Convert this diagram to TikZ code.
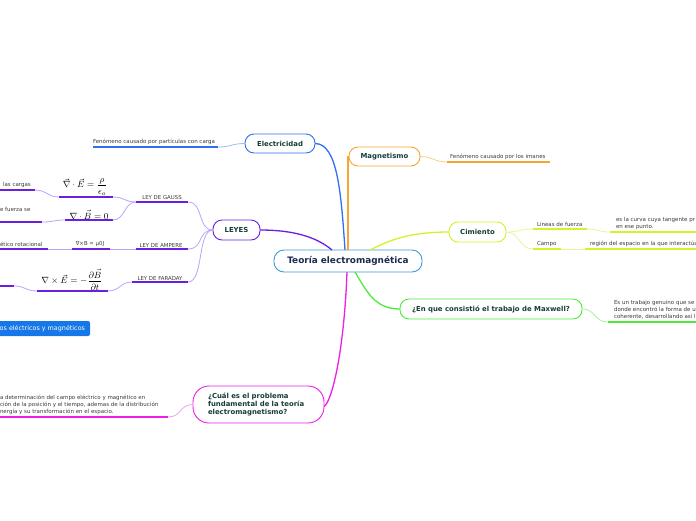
\documentclass[tikz,border=0pt]{standalone}
\usepackage{amsmath}
\usepackage{fontspec}
\setmainfont{DejaVu Sans}
\definecolor{txtgray}{HTML}{3A3A3A}
\definecolor{nodetext}{HTML}{163D35}
\definecolor{navy}{HTML}{1B2A4E}
\definecolor{centerC}{HTML}{3D9AD8}
\definecolor{blueC}{HTML}{2F6FF0}
\definecolor{blueL}{HTML}{9DBBF7}
\definecolor{orangeC}{HTML}{F7A531}
\definecolor{orangeL}{HTML}{F9CC8C}
\definecolor{purpleC}{HTML}{6B1FE0}
\definecolor{purpleL}{HTML}{B9A3F7}
\definecolor{yellowC}{HTML}{D4F22A}
\definecolor{yellowL}{HTML}{E6F59B}
\definecolor{greenC}{HTML}{4CEB3A}
\definecolor{greenL}{HTML}{A6F59C}
\definecolor{magC}{HTML}{EF1EE6}
\definecolor{magL}{HTML}{F59CF0}
\definecolor{boxblue}{HTML}{1677E8}
\begin{document}
\begin{tikzpicture}[x=1pt,y=-1pt,
  every node/.style={inner sep=0pt, outer sep=0pt},
  topic/.style={draw, rounded corners=9pt, fill=white, line width=0.9pt,
    font=\fontsize{6.9}{8.3}\selectfont\bfseries, text=nodetext, align=center},
  small/.style={font=\fontsize{5.5}{7}\selectfont, text=txtgray, anchor=south west, align=left},
  lawlbl/.style={font=\fontsize{5.4}{7}\selectfont, text=txtgray, anchor=south},
  formula/.style={font=\fontsize{9}{10}\selectfont, text=black, anchor=south},
  mainline/.style={line width=1.3pt},
  thinline/.style={line width=0.8pt},
  uline/.style={line width=1.6pt}
]
\useasboundingbox (0,0) rectangle (696,520);

% ---------- main topics ----------
\node[topic, draw=centerC, minimum width=148, minimum height=22, rounded corners=10pt,
      font=\fontsize{8.9}{10}\selectfont\bfseries, text=navy] (tc) at (348,261) {Teoría electromagnética};
\node[topic, draw=blueC, minimum width=70, minimum height=19] (elec) at (280,143.5) {Electricidad};
\node[topic, draw=orangeC, minimum width=71, minimum height=19] (mag) at (384.5,156.5) {Magnetismo};
\node[topic, draw=purpleC, minimum width=47, minimum height=20] (leyes) at (236.5,230) {LEYES};
\node[topic, draw=yellowC, minimum width=57, minimum height=20] (cim) at (477.5,232) {Cimiento};
\node[topic, draw=greenC, minimum width=182, minimum height=20] (maxw) at (491,309) {¿En que consistió el trabajo de Maxwell?};
\node[topic, draw=magC, minimum height=37, rounded corners=16pt, align=left,
      text width=101, inner xsep=15pt] (cual) at (258.5,404.5)
      {¿Cuál es el problema\\fundamental de la teoría\\electromagnetismo?};

% ---------- main connectors ----------
\draw[mainline, blueC] (elec.east) .. controls +(22,0) and +(-4,-60) .. ([xshift=-3pt]tc.north);
\draw[mainline, orangeC] (mag.west) -- ++(-1,0) -- ([xshift=0pt]tc.north);
\draw[mainline, purpleC] (leyes.east) .. controls +(40,0) and +(-12,-10) .. ([xshift=-16pt]tc.north);
\draw[mainline, yellowC] (cim.west) .. controls +(-40,0) and +(20,-10) .. ([xshift=22pt]tc.north);
\draw[mainline, greenC] ([xshift=7pt]tc.south) .. controls +(12,20) and +(-25,0) .. (maxw.west);
\draw[mainline, magC] ([xshift=-1pt]tc.south) .. controls +(-3,80) and +(8,-5) .. ([yshift=-2pt]cual.east);

% ---------- Electricidad ----------
\coordinate (e0) at (93,147);
\coordinate (e1) at (218,147);
\draw[uline, blueC] (e0) -- (e1);
\draw[thinline, blueL] (elec.west) .. controls +(-14,0) and +(14,0) .. (e1);
\node[small] (et) at (93,145) {Fenómeno causado por partículas con carga};

% ---------- Magnetismo ----------
\coordinate (m1) at (447,162);
\coordinate (m2) at (550,162);
\draw[uline, orangeC] (m1) -- (m2);
\draw[thinline, orangeL] (mag.east) .. controls +(14,0) and +(-14,0) .. (m1);
\node[small] (mt) at (450,160) {Fenómeno causado por los imanes};

% ---------- LEYES: Gauss ----------
\coordinate (g0) at (136,202);
\coordinate (g1) at (188,202);
\draw[uline, purpleC] (g0) -- (g1);
\draw[thinline, purpleL] (leyes.west) .. controls +(-16,0) and +(16,0) .. (g1);
\node[lawlbl] (gl) at (162,200) {LEY DE GAUSS};

\coordinate (f10) at (59,197);
\coordinate (f11) at (113,197);
\draw[uline, purpleC] (f10) -- (f11);
\draw[thinline, purpleL] (g0) .. controls +(-12,0) and +(12,0) .. (f11);
\node[formula] (f1) at (85,195) {$\vec{\nabla}\cdot\vec{E}=\dfrac{\rho}{\epsilon_o}$};

\coordinate (lc0) at (-5,190);
\coordinate (lc1) at (35,190);
\draw[uline, purpleC] (lc0) -- (lc1);
\draw[thinline, purpleL] (f10) .. controls +(-12,0) and +(12,0) .. (lc1);
\node[small] (lct) at (3,188) {las cargas};

\coordinate (f20) at (65,220);
\coordinate (f21) at (113,220);
\draw[uline, purpleC] (f20) -- (f21);
\draw[thinline, purpleL] (g0) .. controls +(-12,0) and +(12,0) .. (f21);
\node[formula] (f2) at (89,219) {$\nabla\cdot\vec{B}=0$};

\coordinate (fs0) at (-5,222);
\coordinate (fs1) at (42,222);
\draw[uline, purpleC] (fs0) -- (fs1);
\draw[thinline, purpleL] (f20) .. controls +(-12,0) and +(12,0) .. (fs1);
\node[small] (fst) at (0,212) {e fuerza se};

% ---------- LEYES: Ampere ----------
\coordinate (a0) at (136,249);
\coordinate (a1) at (188,249);
\draw[uline, purpleC] (a0) -- (a1);
\draw[thinline, purpleL] (leyes.west) .. controls +(-16,0) and +(16,0) .. (a1);
\node[lawlbl] (al) at (161,247) {LEY DE AMPERE};

\coordinate (am0) at (72,249);
\coordinate (am1) at (110,249);
\draw[uline, purpleC] (am0) -- (am1);
\draw[thinline, purpleL] (a0) -- (am1);
\node[lawlbl] (amt) at (90,246.5) {∇×B = μ0J};

\coordinate (r0) at (-5,249);
\coordinate (r1) at (48,249);
\draw[uline, purpleC] (r0) -- (r1);
\draw[thinline, purpleL] (am0) -- (r1);
\node[small] (rt) at (0,247) {ético rotacional};

% ---------- LEYES: Faraday ----------
\coordinate (d0) at (132,282);
\coordinate (d1) at (188,282);
\draw[uline, purpleC] (d0) -- (d1);
\draw[thinline, purpleL] (leyes.west) .. controls +(-16,0) and +(16,0) .. (d1);
\node[lawlbl] (dl) at (160,280) {LEY DE FARADAY};

\coordinate (fd0) at (37,291);
\coordinate (fd1) at (108,291);
\draw[uline, purpleC] (fd0) -- (fd1);
\draw[thinline, purpleL] (d0) .. controls +(-12,0) and +(12,0) .. (fd1);
\node[formula] (fd) at (72,290) {$\nabla\times\vec{E}=-\dfrac{\partial\vec{B}}{\partial t}$};

\coordinate (x0) at (-5,286);
\coordinate (x1) at (14,286);
\draw[uline, purpleC] (x0) -- (x1);
\draw[thinline, purpleL] (fd0) .. controls +(-12,0) and +(12,0) .. (x1);

% ---------- blue box ----------
\node[fill=boxblue, rounded corners=2pt, minimum height=15, anchor=east, inner xsep=5pt,
      text=white, font=\fontsize{6.4}{7.5}\selectfont] (bb) at (90,328.5) {os eléctricos y magnéticos};

% ---------- Cimiento ----------
\coordinate (lf0) at (533,229);
\coordinate (lf1) at (587,229);
\draw[uline, yellowC] (lf0) -- (lf1);
\draw[thinline, yellowL] (cim.east) .. controls +(14,0) and +(-14,0) .. (lf0);
\node[small] (lft) at (537,227) {Lineas de fuerza};

\coordinate (tg0) at (610,232);
\coordinate (tg1) at (700,232);
\draw[uline, yellowC] (tg0) -- (tg1);
\draw[thinline, yellowL] (lf1) .. controls +(12,0) and +(-12,0) .. (tg0);
\node[small] (tgt) at (616,229.5) {es la curva cuya tangente pr\\en ese punto.};

\coordinate (c0) at (533,249);
\coordinate (c1) at (561,249);
\draw[uline, yellowC] (c0) -- (c1);
\draw[thinline, yellowL] (cim.east) .. controls +(14,0) and +(-14,0) .. (c0);
\node[small] (ct) at (537,247) {Campo};

\coordinate (rg0) at (585,249);
\coordinate (rg1) at (700,249);
\draw[uline, yellowC] (rg0) -- (rg1);
\draw[thinline, yellowL] (c1) -- (rg0);
\node[small] (rgt) at (590,247) {región del espacio en la que interactúa};

% ---------- Maxwell ----------
\coordinate (w0) at (608,322);
\coordinate (w1) at (700,322);
\draw[uline, greenC] (w0) -- (w1);
\draw[thinline, greenL] (maxw.east) .. controls +(14,0) and +(-14,0) .. (w0);
\node[small] (wt) at (614,319.5) {Es un trabajo genuino que se\\donde encontró la forma de u\\coherente, desarrollando así l};

% ---------- Cual ----------
\coordinate (q0) at (-5,417);
\coordinate (q1) at (168,417);
\draw[uline, magC] (q0) -- (q1);
\draw[thinline, magL] (cual.west) .. controls +(-14,0) and +(14,0) .. (q1);
\node[small] (qt) at (0,414.5) {a determinación del campo eléctrico y magnético en\\ción de la posición y el tiempo, ademas de la distribución\\nergía y su transformación en el espacio.};
\end{tikzpicture}
\end{document}
